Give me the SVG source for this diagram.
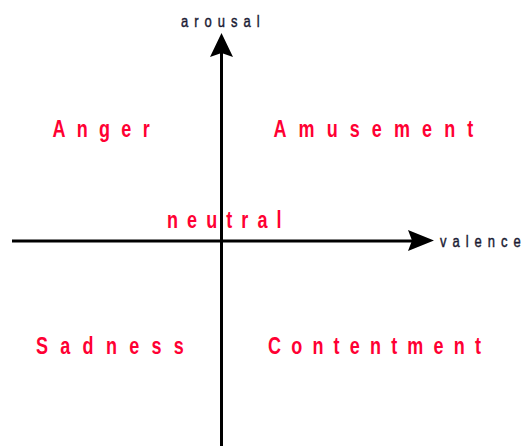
<svg xmlns="http://www.w3.org/2000/svg" width="525" height="446" viewBox="0 0 525 446">
<style>
.emo{font-family:"Liberation Sans",Arial,sans-serif;font-weight:bold;font-size:18px;fill:#ff0033}
.ax{font-family:"Liberation Sans",Arial,sans-serif;font-size:13px;fill:#1a1a33;stroke:#1a1a33;stroke-width:0.35}
.sp{letter-spacing:6px}
.axis{stroke:#000;stroke-width:3;fill:none}
.head{fill:#000}
</style>
<rect width="525" height="446" fill="#fff"/>
<g id="anger" transform="translate(52.5,136.5) scale(1,1.3)"><text class="emo" x="0" y="0" style="letter-spacing:11.3px">Anger</text></g>
<g id="amusement" transform="translate(273.5,136.5) scale(1,1.3)"><text class="emo" x="0" y="0" style="letter-spacing:12.1px">Amusement</text></g>
<g id="neutral" transform="translate(167,228) scale(1,1.3)"><text class="emo" x="0" y="0" style="letter-spacing:9.1px">neutral</text></g>
<g id="sadness" transform="translate(36,354) scale(1,1.3)"><text class="emo" x="0" y="0" style="letter-spacing:12.3px">Sadness</text></g>
<g id="contentment" transform="translate(268,354) scale(1,1.3)"><text class="emo" x="0" y="0" style="letter-spacing:10.2px">Contentment</text></g>
<g id="arousal" transform="translate(181,26.5) scale(1,1.3)"><text class="ax" x="0" y="0"><tspan class="sp">arousa</tspan>l</text></g>
<g id="valence" transform="translate(440,246.5) scale(1,1.3)"><text class="ax" x="0" y="0"><tspan class="sp">valenc</tspan>e</text></g>
<g id="connectors">
<line class="axis" x1="221.5" y1="446" x2="221.5" y2="52"/>
<path class="head" d="M221.5,33 L233,57 L221.5,53 L210,57 Z"/>
<line class="axis" x1="12" y1="241" x2="414" y2="241"/>
<path class="head" d="M434,240.5 L408,230 L412,240.5 L408,251 Z"/>
</g>
</svg>
